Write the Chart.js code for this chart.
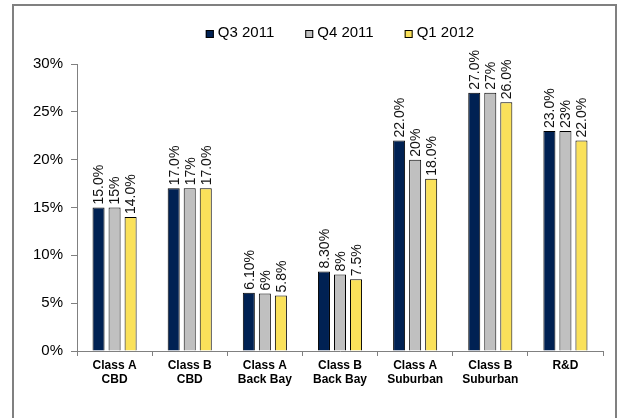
<!DOCTYPE html>
<html>
<head>
<meta charset="utf-8">
<script src="https://cdn.jsdelivr.net/npm/chart.js@4.4.1/dist/chart.umd.min.js"></script>
<style>
  html, body { margin: 0; padding: 0; background: #fff; }
  #wrap { width: 619px; height: 418px; }
</style>
</head>
<body>
<div id="wrap"><canvas id="chart" width="619" height="418"></canvas></div>
<script>
// data
const categories = [
    ["Class A", "CBD"],
    ["Class B", "CBD"],
    ["Class A", "Back Bay"],
    ["Class B", "Back Bay"],
    ["Class A", "Suburban"],
    ["Class B", "Suburban"],
    ["R&D"]
];
const seriesNames = ["Q3 2011", "Q4 2011", "Q1 2012"];
const q3Values = [15, 17, 6.1, 8.3, 22, 27, 23];
const q4Values = [15, 17, 6, 8, 20, 27, 23];
const q1Values = [14, 17, 5.8, 7.5, 18, 26, 22];
// the value labels are printed with mixed formats in the original
const q3Labels = ["15.0%", "17.0%", "6.10%", "8.30%", "22.0%", "27.0%", "23.0%"];
const q4Labels = ["15%", "17%", "6%", "8%", "20%", "27%", "23%"];
const q1Labels = ["14.0%", "17.0%", "5.8%", "7.5%", "18.0%", "26.0%", "22.0%"];
const yTicks = [0, 5, 10, 15, 20, 25, 30];

const seriesColors = ["#002153", "#C0C0C0", "#FAE15A"];
const valueLabels = [q3Labels, q4Labels, q1Labels];
const FONT = "'Liberation Sans', Arial, sans-serif";

// grey frame around the whole chart
const framePlugin = {
    id: "frame",
    beforeDraw(chart) {
        const ctx = chart.ctx;
        ctx.save();
        ctx.fillStyle = "#fff";
        ctx.fillRect(0, 0, chart.width, chart.height);
        ctx.strokeStyle = "#808080";
        ctx.lineWidth = 2;
        ctx.strokeRect(13, 5, 603, 430);
        ctx.restore();
    }
};

// legend drawn by hand so it can sit higher than the plot area
const legendPlugin = {
    id: "topLegend",
    afterDraw(chart) {
        const ctx = chart.ctx;
        const area = chart.chartArea;
        const box = 8, gap = 4, spacing = 31;
        ctx.save();
        ctx.font = "15px " + FONT;
        ctx.textBaseline = "middle";
        ctx.textAlign = "left";
        const widths = seriesNames.map(n => box + gap + ctx.measureText(n).width);
        const total = widths.reduce((a, b) => a + b, 0) + spacing * (widths.length - 1);
        let x = (area.left + area.right) / 2 - total / 2;
        const y = 33;
        seriesNames.forEach((name, i) => {
            ctx.fillStyle = seriesColors[i];
            ctx.fillRect(x, y - 3, box, box);
            ctx.strokeStyle = "#000";
            ctx.lineWidth = 1;
            ctx.strokeRect(x + 0.5, y - 2.5, box - 1, box - 1);
            ctx.fillStyle = "#000";
            ctx.fillText(name, x + box + gap, y);
            x += widths[i] + spacing;
        });
        ctx.restore();
    }
};

// rotated value labels above each bar
const barLabelsPlugin = {
    id: "barLabels",
    afterDatasetsDraw(chart) {
        const ctx = chart.ctx;
        ctx.save();
        ctx.font = "14px " + FONT;
        ctx.fillStyle = "#111";
        ctx.textAlign = "left";
        ctx.textBaseline = "middle";
        chart.data.datasets.forEach((ds, i) => {
            chart.getDatasetMeta(i).data.forEach((bar, j) => {
                ctx.save();
                ctx.translate(bar.x, bar.y - 3);
                ctx.rotate(-Math.PI / 2);
                ctx.fillText(valueLabels[i][j], 0, 1);
                ctx.restore();
            });
        });
        ctx.restore();
    }
};

const datasets = [q3Values, q4Values, q1Values].map((vals, i) => ({
    label: seriesNames[i],
    data: vals,
    backgroundColor: seriesColors[i],
    borderColor: "#000",
    borderWidth: 1,
    categoryPercentage: 0.64,
    barPercentage: 0.75
}));

new Chart(document.getElementById("chart"), {
    type: "bar",
    data: { labels: categories, datasets: datasets },
    options: {
        responsive: false,
        animation: false,
        layout: { padding: { top: 64, right: 16, bottom: 27, left: 0 } },
        plugins: {
            legend: { display: false },
            tooltip: { enabled: false }
        },
        scales: {
            x: {
                grid: { drawOnChartArea: false, drawTicks: true, tickLength: 5, color: "#808080", offset: true },
                border: { color: "#808080", width: 1 },
                ticks: {
                    color: "#000",
                    padding: 3,
                    maxRotation: 0,
                    autoSkip: false,
                    font: { family: FONT, size: 12, weight: "bold", lineHeight: 1.15 }
                },
                afterFit(scale) { scale.height = 40; }
            },
            y: {
                min: 0,
                max: 30,
                grid: { drawOnChartArea: false, drawTicks: true, tickLength: 6, color: "#808080" },
                border: { color: "#808080", width: 1 },
                afterBuildTicks(scale) { scale.ticks = yTicks.map(v => ({ value: v })); },
                ticks: {
                    color: "#000",
                    padding: 8,
                    font: { family: FONT, size: 15 },
                    callback: v => v + "%"
                },
                afterFit(scale) { scale.width = 77; }
            }
        }
    },
    plugins: [framePlugin, legendPlugin, barLabelsPlugin]
});
</script>
</body>
</html>
